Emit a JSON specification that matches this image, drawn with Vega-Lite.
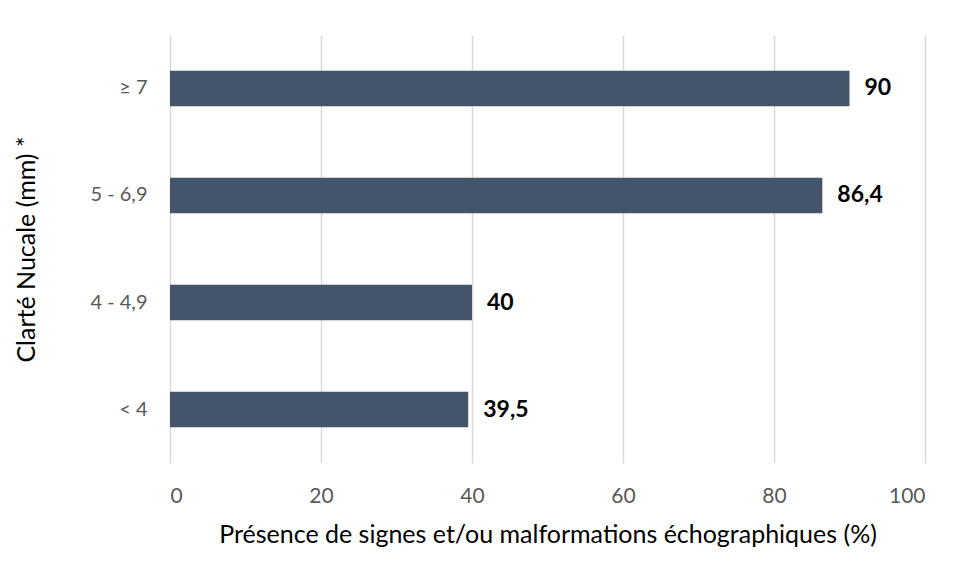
{
  "$schema": "https://vega.github.io/schema/vega-lite/v6.json",
  "width": 755,
  "height": 428,
  "autosize": {"type": "none"},
  "padding": {"left": 170, "top": 35, "right": 34, "bottom": 116},
  "background": "white",
  "config": {
    "font": "Lato",
    "view": {"stroke": null},
    "axis": {"labelFont": "Lato", "titleFont": "Lato"}
  },
  "data": {
    "values": [
      {"cat": "≥ 7", "value": 90, "label": "90"},
      {"cat": "5 - 6,9", "value": 86.4, "label": "86,4"},
      {"cat": "4 - 4,9", "value": 40, "label": "40"},
      {"cat": "< 4", "value": 39.5, "label": "39,5"}
    ]
  },
  "encoding": {
    "y": {
      "field": "cat",
      "type": "nominal",
      "sort": null,
      "scale": {"paddingInner": 0.667, "paddingOuter": 0.333},
      "axis": {
        "title": "Clarté Nucale (mm) *",
        "titleFontSize": 25,
        "titleFontWeight": "normal",
        "titleColor": "#000000",
        "titlePadding": 50,
        "labelFontSize": 20,
        "labelColor": "#595959",
        "labelPadding": 23,
        "ticks": false,
        "domain": false,
        "grid": false
      }
    },
    "x": {
      "field": "value",
      "type": "quantitative",
      "scale": {"domain": [0, 100], "nice": false},
      "axis": {
        "title": "Présence de signes et/ou malformations échographiques (%)",
        "values": [0, 20, 40, 60, 80, 100],
        "titleFontSize": 25,
        "titleFontWeight": "normal",
        "titleColor": "#000000",
        "titlePadding": 16,
        "labelFontSize": 21,
        "labelColor": "#595959",
        "labelPadding": 22,
        "ticks": false,
        "domain": false,
        "grid": true,
        "gridColor": "#d9d9d9",
        "gridWidth": 1.5
      }
    }
  },
  "layer": [
    {"mark": {"type": "bar", "color": "#44546A"}},
    {
      "mark": {"type": "text", "align": "left", "baseline": "middle", "dx": 15, "fontSize": 23, "fontWeight": "bold", "color": "#000000"},
      "encoding": {"text": {"field": "label"}}
    }
  ]
}
